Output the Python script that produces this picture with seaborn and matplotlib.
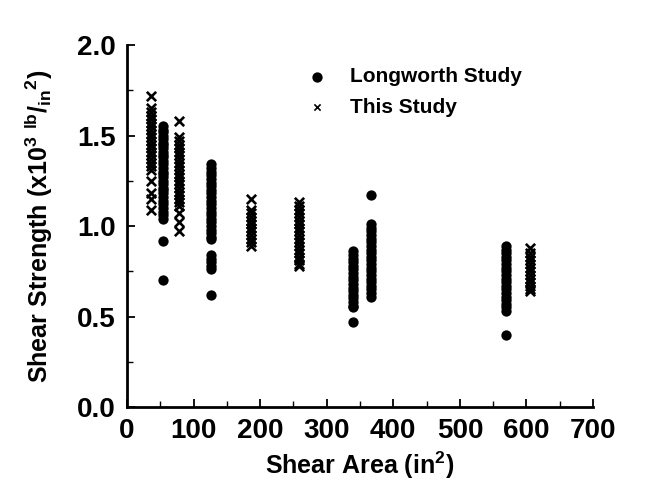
import matplotlib
matplotlib.use("Agg")
import matplotlib.pyplot as plt
import seaborn as sns
import pandas as pd
from matplotlib.ticker import MultipleLocator

# ---- data ----
# Longworth Study (filled dots)
lw_54 = [1.55, 1.53, 1.52, 1.50, 1.48, 1.46, 1.45, 1.43, 1.41, 1.39, 1.38, 1.36, 1.34,
         1.32, 1.30, 1.29, 1.27, 1.25, 1.23, 1.21, 1.20, 1.18, 1.16, 1.14, 1.12, 1.10,
         1.08, 1.06, 1.04, 0.92, 0.70]
lw_126 = [1.34, 1.32, 1.30, 1.28, 1.26, 1.24, 1.22, 1.20, 1.18, 1.16, 1.14, 1.12, 1.10,
          1.08, 1.06, 1.04, 1.02, 1.00, 0.98, 0.96, 0.94, 0.93, 0.84, 0.82, 0.80, 0.78,
          0.76, 0.62]
lw_340 = [0.86, 0.84, 0.82, 0.80, 0.78, 0.76, 0.74, 0.72, 0.70, 0.68, 0.66, 0.64, 0.62,
          0.60, 0.58, 0.56, 0.55, 0.47]
lw_366 = [1.17, 1.01, 0.99, 0.97, 0.95, 0.93, 0.91, 0.89, 0.87, 0.85, 0.83, 0.81, 0.79,
          0.77, 0.75, 0.73, 0.71, 0.69, 0.67, 0.65, 0.63, 0.61]
lw_570 = [0.89, 0.87, 0.85, 0.83, 0.81, 0.79, 0.77, 0.75, 0.73, 0.71, 0.69, 0.67, 0.65,
          0.63, 0.61, 0.59, 0.57, 0.55, 0.53, 0.40]
# This Study (crosses)
ts_36 = [1.72, 1.65, 1.63, 1.61, 1.59, 1.57, 1.55, 1.53, 1.51, 1.49, 1.47, 1.45, 1.43,
         1.41, 1.39, 1.37, 1.35, 1.33, 1.31, 1.25, 1.18, 1.15, 1.09]
ts_78 = [1.58, 1.49, 1.47, 1.45, 1.43, 1.41, 1.39, 1.37, 1.35, 1.33, 1.31, 1.29, 1.27,
         1.25, 1.23, 1.21, 1.19, 1.17, 1.15, 1.13, 1.11, 1.07, 1.02, 0.97]
ts_186 = [1.15, 1.09, 1.07, 1.05, 1.03, 1.01, 0.99, 0.97, 0.95, 0.93, 0.91, 0.89]
ts_258 = [1.13, 1.11, 1.09, 1.07, 1.05, 1.03, 1.01, 0.99, 0.97, 0.95, 0.93, 0.91, 0.89,
          0.87, 0.85, 0.83, 0.81, 0.79, 0.78]
ts_606 = [0.88, 0.85, 0.83, 0.81, 0.79, 0.77, 0.75, 0.73, 0.71, 0.69, 0.67, 0.65, 0.64]

longworth = {54: lw_54, 126: lw_126, 340: lw_340, 366: lw_366, 570: lw_570}
this_study = {36: ts_36, 78: ts_78, 186: ts_186, 258: ts_258, 606: ts_606}

def to_frame(cols, name):
    rows = [(a, v, name) for a, vals in cols.items() for v in vals]
    return pd.DataFrame(rows, columns=["area", "strength", "study"])

df_lw = to_frame(longworth, "Longworth Study")
df_ts = to_frame(this_study, "This Study")

# ---- style ----
sns.set_theme(style="ticks")
plt.rcParams["font.family"] = ["Liberation Sans", "DejaVu Sans"]
plt.rcParams["font.weight"] = "bold"
plt.rcParams["text.color"] = "black"
plt.rcParams["axes.labelcolor"] = "black"
plt.rcParams["mathtext.fontset"] = "custom"
plt.rcParams["mathtext.rm"] = "Liberation Sans:bold"
plt.rcParams["mathtext.bf"] = "Liberation Sans:bold"
plt.rcParams["mathtext.default"] = "bf"

fig = plt.figure(figsize=(6.51, 4.84), dpi=100)
ax = fig.add_axes([0.195, 0.159, 0.716, 0.748])

sns.scatterplot(data=df_lw, x="area", y="strength", marker="o", s=55, color="black",
                edgecolor="black", linewidth=0, ax=ax, label="Longworth Study")
sns.scatterplot(data=df_ts, x="area", y="strength", marker="x", s=45, color="black",
                linewidth=1.9, ax=ax, label="This Study")

ax.set_xlim(0, 700)
ax.set_ylim(0, 2.0)
ax.xaxis.set_major_locator(MultipleLocator(100))
ax.xaxis.set_minor_locator(MultipleLocator(50))
ax.yaxis.set_major_locator(MultipleLocator(0.5))
ax.yaxis.set_minor_locator(MultipleLocator(0.25))
ax.yaxis.set_major_formatter(matplotlib.ticker.FormatStrFormatter("%.1f"))

for s in ["top", "right"]:
    ax.spines[s].set_visible(False)
for s in ["left", "bottom"]:
    ax.spines[s].set_linewidth(2)
    ax.spines[s].set_color("black")

ax.tick_params(which="major", direction="in", length=6, width=1.3, labelsize=20,
               colors="black", pad=8)
ax.tick_params(which="minor", direction="in", length=4, width=1.0, colors="black")
for lab in ax.get_xticklabels() + ax.get_yticklabels():
    lab.set_fontweight("bold")

ax.set_xlabel(r"Shear Area (in$^{2}$)", fontsize=18, fontweight="bold", labelpad=4)
ax.set_ylabel(r"Shear Strength (x10$^{3}$ $^{lb}/_{in}$$^{2}$)", fontsize=18,
              fontweight="bold", labelpad=16)

leg = ax.legend(loc="upper left", bbox_to_anchor=(0.345, 0.962), frameon=False,
                prop={"size": 15, "weight": "bold"}, handletextpad=0.6,
                labelspacing=0.55, borderaxespad=0)
for h in leg.legend_handles:
    h.set_color("black")
leg.legend_handles[1].set_sizes([20])
leg.legend_handles[1].set_linewidth(1.2)

fig.savefig("out.png", dpi=100)
